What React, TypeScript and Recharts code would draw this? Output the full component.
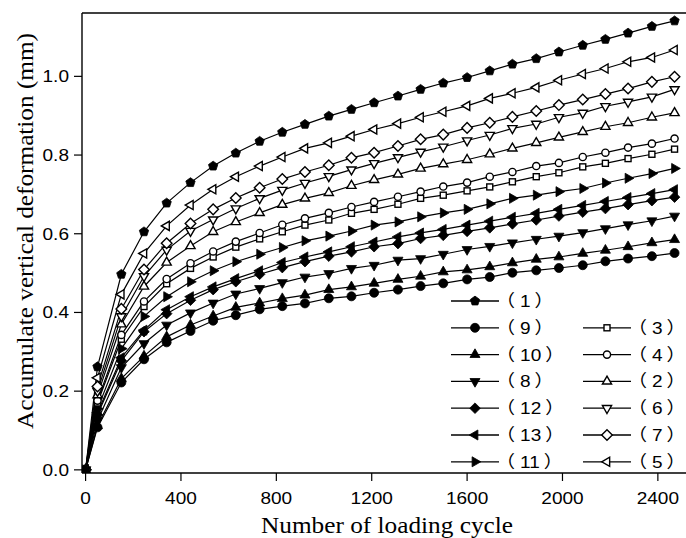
import React from "react"
import { LineChart, Line, XAxis, YAxis } from "recharts"

// loading cycles (x)
const cycles = [0, 50, 150, 245, 340, 440, 535, 630, 730, 825, 920, 1020, 1115, 1210, 1310, 1405, 1500, 1600, 1695, 1790, 1890, 1985, 2085, 2180, 2275, 2375, 2470]

// accumulated vertical deformation (mm), one array per test
const s1 = [0, 0.262, 0.497, 0.605, 0.678, 0.73, 0.772, 0.805, 0.835, 0.858, 0.878, 0.899, 0.916, 0.933, 0.95, 0.967, 0.983, 0.997, 1.014, 1.031, 1.045, 1.062, 1.079, 1.094, 1.11, 1.127, 1.141]
const s2 = [0, 0.19, 0.37, 0.466, 0.527, 0.569, 0.605, 0.63, 0.653, 0.674, 0.69, 0.704, 0.722, 0.737, 0.751, 0.766, 0.777, 0.788, 0.802, 0.817, 0.831, 0.845, 0.859, 0.872, 0.882, 0.896, 0.907]
const s3 = [0, 0.17, 0.332, 0.415, 0.473, 0.512, 0.541, 0.566, 0.587, 0.605, 0.622, 0.635, 0.652, 0.662, 0.675, 0.69, 0.698, 0.709, 0.719, 0.732, 0.745, 0.755, 0.77, 0.779, 0.791, 0.802, 0.815]
const s4 = [0, 0.176, 0.343, 0.428, 0.485, 0.525, 0.555, 0.58, 0.602, 0.623, 0.639, 0.653, 0.668, 0.681, 0.694, 0.707, 0.72, 0.73, 0.745, 0.757, 0.772, 0.78, 0.795, 0.806, 0.819, 0.829, 0.842]
const s5 = [0, 0.234, 0.446, 0.55, 0.62, 0.673, 0.713, 0.745, 0.772, 0.795, 0.817, 0.831, 0.848, 0.865, 0.88, 0.896, 0.91, 0.925, 0.944, 0.957, 0.972, 0.99, 1.006, 1.02, 1.037, 1.048, 1.067]
const s6 = [0, 0.2, 0.39, 0.492, 0.559, 0.607, 0.636, 0.664, 0.69, 0.711, 0.729, 0.746, 0.763, 0.779, 0.794, 0.808, 0.821, 0.837, 0.851, 0.868, 0.879, 0.896, 0.907, 0.924, 0.935, 0.948, 0.967]
const s7 = [0, 0.212, 0.409, 0.509, 0.576, 0.626, 0.662, 0.691, 0.717, 0.739, 0.757, 0.774, 0.793, 0.806, 0.823, 0.84, 0.852, 0.869, 0.882, 0.897, 0.912, 0.927, 0.941, 0.955, 0.969, 0.986, 0.999]
const s8 = [0, 0.125, 0.26, 0.321, 0.368, 0.399, 0.424, 0.447, 0.461, 0.476, 0.49, 0.499, 0.512, 0.52, 0.533, 0.537, 0.548, 0.56, 0.568, 0.577, 0.586, 0.594, 0.603, 0.613, 0.623, 0.633, 0.645]
const s9 = [0, 0.108, 0.222, 0.281, 0.324, 0.353, 0.379, 0.393, 0.408, 0.416, 0.423, 0.436, 0.441, 0.45, 0.458, 0.467, 0.474, 0.484, 0.49, 0.501, 0.507, 0.513, 0.52, 0.53, 0.537, 0.543, 0.551]
const s10 = [0, 0.112, 0.232, 0.289, 0.338, 0.368, 0.391, 0.413, 0.424, 0.435, 0.444, 0.458, 0.465, 0.474, 0.484, 0.492, 0.503, 0.508, 0.516, 0.526, 0.535, 0.541, 0.55, 0.558, 0.567, 0.577, 0.585]
const s11 = [0, 0.155, 0.308, 0.39, 0.44, 0.478, 0.506, 0.529, 0.548, 0.565, 0.582, 0.594, 0.607, 0.622, 0.63, 0.643, 0.653, 0.662, 0.676, 0.69, 0.698, 0.707, 0.715, 0.729, 0.741, 0.753, 0.766]
const s12 = [0, 0.14, 0.277, 0.351, 0.397, 0.431, 0.458, 0.478, 0.497, 0.514, 0.529, 0.543, 0.554, 0.567, 0.575, 0.588, 0.596, 0.606, 0.615, 0.625, 0.635, 0.645, 0.655, 0.664, 0.674, 0.684, 0.693]
const s13 = [0, 0.145, 0.285, 0.355, 0.407, 0.44, 0.465, 0.486, 0.506, 0.527, 0.541, 0.554, 0.567, 0.579, 0.592, 0.602, 0.611, 0.622, 0.632, 0.642, 0.652, 0.662, 0.672, 0.682, 0.692, 0.702, 0.712]

const xTicks = [0, 400, 800, 1200, 1600, 2000, 2400]
const yTicks = [0, 0.2, 0.4, 0.6, 0.8, 1.0]

type Shape = "pentagon" | "circle" | "up" | "down" | "diamond" | "left" | "right" | "square"

const series: { key: string; label: string; values: number[]; shape: Shape; filled: boolean }[] = [
  { key: "s9", label: "（9）", values: s9, shape: "circle", filled: true },
  { key: "s10", label: "（10）", values: s10, shape: "up", filled: true },
  { key: "s8", label: "（8）", values: s8, shape: "down", filled: true },
  { key: "s12", label: "（12）", values: s12, shape: "diamond", filled: true },
  { key: "s13", label: "（13）", values: s13, shape: "left", filled: true },
  { key: "s11", label: "（11）", values: s11, shape: "right", filled: true },
  { key: "s3", label: "（3）", values: s3, shape: "square", filled: false },
  { key: "s4", label: "（4）", values: s4, shape: "circle", filled: false },
  { key: "s2", label: "（2）", values: s2, shape: "up", filled: false },
  { key: "s6", label: "（6）", values: s6, shape: "down", filled: false },
  { key: "s7", label: "（7）", values: s7, shape: "diamond", filled: false },
  { key: "s5", label: "（5）", values: s5, shape: "left", filled: false },
  { key: "s1", label: "（1）", values: s1, shape: "pentagon", filled: true },
]

const legendCol1 = ["s1", "s9", "s10", "s8", "s12", "s13", "s11"]
const legendCol2 = ["", "s3", "s4", "s2", "s6", "s7", "s5"]

const data = cycles.map((x, i) => {
  const row: Record<string, number> = { x }
  series.forEach((s) => (row[s.key] = s.values[i]))
  return row
})

const poly = (cx: number, cy: number, pts: number[][]) =>
  pts.map(([dx, dy]) => `${cx + dx},${cy + dy}`).join(" ")

function Marker({ cx, cy, shape, filled }: { cx: number; cy: number; shape: Shape; filled: boolean }) {
  const style = { fill: filled ? "#000" : "#fff", stroke: "#000", strokeWidth: filled ? 0.8 : 1.4 }
  const R = filled ? 5.8 : 5.3
  switch (shape) {
    case "circle":
      return <circle cx={cx} cy={cy} r={filled ? 4.5 : 3.6} {...style} />
    case "square":
      return <rect x={cx - 3} y={cy - 3} width={6} height={6} {...style} />
    case "pentagon": {
      const pts = [-90, -18, 54, 126, 198].map((a) => [4.9 * Math.cos((a * Math.PI) / 180), 4.9 * Math.sin((a * Math.PI) / 180)])
      return <polygon points={poly(cx, cy, pts)} {...style} />
    }
    case "diamond":
      return <polygon points={poly(cx, cy, [[0, -5.3], [5.3, 0], [0, 5.3], [-5.3, 0]])} {...style} />
    case "up":
      return <polygon points={poly(cx, cy, [[0, -R], [0.866 * R, 0.5 * R], [-0.866 * R, 0.5 * R]])} {...style} />
    case "down":
      return <polygon points={poly(cx, cy, [[0, R], [0.866 * R, -0.5 * R], [-0.866 * R, -0.5 * R]])} {...style} />
    case "left":
      return <polygon points={poly(cx, cy, [[-R, 0], [0.5 * R, -0.866 * R], [0.5 * R, 0.866 * R]])} {...style} />
    case "right":
      return <polygon points={poly(cx, cy, [[R, 0], [-0.5 * R, -0.866 * R], [-0.5 * R, 0.866 * R]])} {...style} />
  }
  return null
}

const sansFont = "'Liberation Sans', Arial, sans-serif"
const cjkFont = "'Noto Sans CJK SC', sans-serif"
const serifFont = "'Liberation Serif', 'Times New Roman', serif"

const XTick = ({ x, y, payload }: any) => (
  <text transform={`translate(${x},${y + 21}) scale(1.12,1)`} textAnchor="middle" fontSize={17} fontFamily={sansFont} fill="#000">
    {payload.value}
  </text>
)

const YTick = ({ x, y, payload }: any) => (
  <text transform={`translate(${x},${y + 6}) scale(1.12,1)`} textAnchor="end" fontSize={17} fontFamily={sansFont} fill="#000">
    {Number(payload.value).toFixed(1)}
  </text>
)

function LegendItem({ id, col, row }: { id: string; col: number; row: number }) {
  const s = series.find((d) => d.key === id)
  if (!s) return null
  const x0 = col === 0 ? 451 : 583
  const y = 301 + row * 26.8
  return (
    <g>
      <line x1={x0} x2={x0 + 48} y1={y} y2={y} stroke="#000" strokeWidth={1.3} />
      <Marker cx={x0 + 24} cy={y} shape={s.shape} filled={s.filled} />
      <text transform={`translate(${x0 + 45},${y + 6}) scale(1.12,1)`} fontSize={17} fontFamily={sansFont} fill="#000">
        <tspan fontFamily={cjkFont}>{s.label.slice(0, 1)}</tspan>
        <tspan dx={4.5}>{s.label.slice(1, -1)}</tspan>
        <tspan dx={3.5} fontFamily={cjkFont}>{s.label.slice(-1)}</tspan>
      </text>
    </g>
  )
}

export default function App() {
  return (
    <div style={{ position: "absolute", left: 0, top: 0, width: 686, height: 538, background: "#fff" }}>
      <LineChart width={686} height={538} data={data} margin={{ top: 0, right: 0, bottom: 0, left: 0 }}>
        <XAxis
          dataKey="x"
          type="number"
          domain={[-15, 2518]}
          allowDataOverflow
          ticks={xTicks}
          tick={<XTick />}
          tickSize={8}
          tickMargin={2}
          height={65}
          axisLine={{ stroke: "#000", strokeWidth: 1.4 }}
          tickLine={{ stroke: "#000", strokeWidth: 1.2 }}
        />
        <XAxis
          xAxisId="top"
          orientation="top"
          dataKey="x"
          type="number"
          domain={[-15, 2518]}
          allowDataOverflow
          tick={false}
          tickLine={false}
          height={13}
          axisLine={{ stroke: "#000", strokeWidth: 1.4 }}
        />
        <YAxis
          type="number"
          domain={[-0.008, 1.161]}
          allowDataOverflow
          ticks={yTicks}
          tick={<YTick />}
          tickSize={8}
          tickMargin={5}
          width={82}
          axisLine={{ stroke: "#000", strokeWidth: 1.4 }}
          tickLine={{ stroke: "#000", strokeWidth: 1.2 }}
        />
        {series.map((s) => (
          <Line
            key={s.key}
            dataKey={s.key}
            type="linear"
            stroke="#000"
            strokeWidth={1.2}
            isAnimationActive={false}
            activeDot={false}
            dot={(p: any) => <Marker key={`${s.key}-${p.index}`} cx={p.cx} cy={p.cy} shape={s.shape} filled={s.filled} />}
          />
        ))}
      </LineChart>
      <svg width={686} height={538} style={{ position: "absolute", left: 0, top: 0, pointerEvents: "none" }}>
        {legendCol1.map((id, i) => (
          <LegendItem key={id} id={id} col={0} row={i} />
        ))}
        {legendCol2.map((id, i) => (id ? <LegendItem key={id} id={id} col={1} row={i} /> : null))}
        <text
          transform="translate(33,231) rotate(-90)"
          textAnchor="middle"
          fontSize={24}
          fontFamily={serifFont}
          textLength={396}
          lengthAdjust="spacingAndGlyphs"
          fill="#000"
        >
          Accumulate vertical deformation (mm)
        </text>
        <text x={387} y={533} textAnchor="middle" fontSize={24} fontFamily={serifFont} textLength={252} lengthAdjust="spacingAndGlyphs" fill="#000">
          Number of loading cycle
        </text>
      </svg>
    </div>
  )
}
